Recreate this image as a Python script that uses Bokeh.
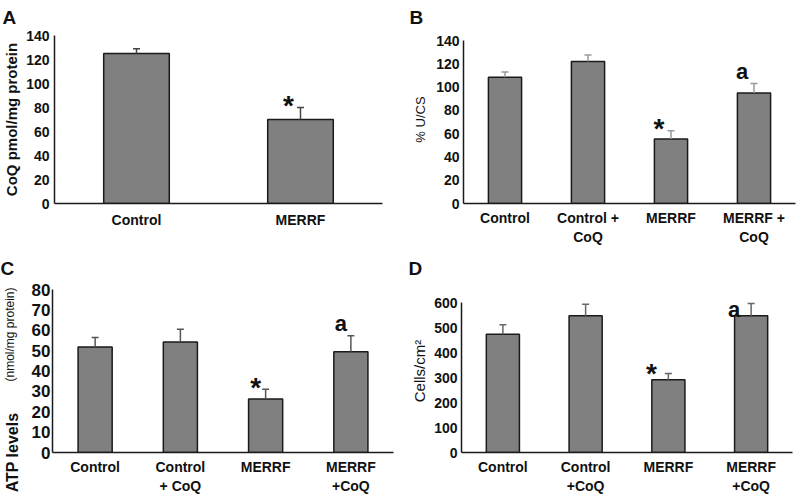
from bokeh.plotting import figure
from bokeh.models import (FactorRange, Range1d, FixedTicker, Whisker, TeeHead,
                          ColumnDataSource, Title)
from bokeh.layouts import column, row
from bokeh.embed import file_html
from bokeh.resources import INLINE
from bokeh.core.properties import value

FONT = "Liberation Sans"

# ---------------- data ----------------
a_cats = ["Control", "MERRF"]
a_vals = [125, 70]
a_err_top = [129, 80]
a_ticks = [0, 20, 40, 60, 80, 100, 120, 140]
a_mark_cats = ["MERRF"]
a_mark_text = ["*"]
a_mark_y = [87]

b_cats = ["Control", "Control +\nCoQ", "MERRF", "MERRF +\nCoQ"]
b_vals = [108.5, 122, 55.5, 95]
b_err_top = [113, 127.5, 62.5, 103]
b_ticks = [0, 20, 40, 60, 80, 100, 120, 140]
b_mark_cats = ["MERRF", "MERRF +\nCoQ"]
b_mark_text = ["*", "a"]
b_mark_y = [70, 112.5]

c_cats = ["Control", "Control\n+ CoQ", "MERRF", "MERRF\n+CoQ"]
c_vals = [51.8, 54.2, 26.2, 49.5]
c_err_top = [56.5, 60.5, 31, 57.3]
c_ticks = [0, 10, 20, 30, 40, 50, 60, 70, 80]
c_mark_cats = ["MERRF", "MERRF\n+CoQ"]
c_mark_text = ["*", "a"]
c_mark_y = [35, 62.6]

d_cats = ["Control", "Control\n+CoQ", "MERRF", "MERRF\n+CoQ"]
d_vals = [473, 548, 291, 548]
d_err_top = [511, 594, 316, 597]
d_ticks = [0, 100, 200, 300, 400, 500, 600]
d_mark_cats = ["MERRF", "MERRF\n+CoQ"]
d_mark_text = ["*", "a"]
d_mark_y = [339, 570]


def panel(cats, vals, errs, ticks, y_end, mcats, mtext, my, width, height,
          bl, br, bt, bb, tick_size, tick_standoff, xl_standoff, err_color,
          letter, letter_offset, letter_standoff, ylabel, ylabel_size,
          ylabel_style, ylabel_standoff, mark_dx):
    src = ColumnDataSource(dict(cat=cats, val=vals, err=errs))
    p = figure(x_range=FactorRange(*cats), y_range=Range1d(0, y_end),
               width=width, height=height, output_backend="svg",
               toolbar_location=None, min_border_left=bl, min_border_right=br,
               min_border_top=bt, min_border_bottom=bb)
    p.vbar(x="cat", top="val", width=0.4, source=src, fill_color="#808080",
           line_color="#1a1a1a", line_width=1.5)
    w = Whisker(base="cat", lower="val", upper="err", source=src,
                dimension="height", line_color=err_color, line_width=1.5,
                upper_head=TeeHead(size=7, line_color=err_color, line_width=1.5),
                lower_head=None, level="overlay")
    p.add_layout(w)
    # significance marks
    for t, size, yoff in (("*", "28px", 6), ("a", "22px", -1)):
        xs = [c for c, s in zip(mcats, mtext) if s == t]
        ys = [y for y, s in zip(my, mtext) if s == t]
        if xs:
            p.text(x=xs, y=ys, text=[t] * len(xs), text_align="center",
                   text_baseline="middle", x_offset=mark_dx, y_offset=yoff,
                   text_font=value(FONT), text_font_size=size,
                   text_font_style="bold", text_color="#111111")
    p.xgrid.visible = False
    p.ygrid.visible = False
    p.outline_line_color = None
    # panel letter
    p.title.text = letter
    p.title.align = "left"
    p.title.vertical_align = "top"
    p.title.offset = letter_offset
    p.title.text_font = FONT
    p.title.text_font_size = "19px"
    p.title.text_font_style = "bold"
    p.title.text_color = "#111111"
    p.title.standoff = letter_standoff
    # axes
    p.yaxis.ticker = FixedTicker(ticks=ticks)
    p.yaxis.bounds = (ticks[0], ticks[-1])
    for ax in (p.xaxis[0], p.yaxis[0]):
        ax.axis_line_color = "#1a1a1a"
        ax.axis_line_width = 1.5
        ax.major_tick_line_color = None
        ax.minor_tick_line_color = None
        ax.major_label_text_font = FONT
        ax.major_label_text_font_style = "bold"
        ax.major_label_text_color = "#111111"
        ax.major_tick_out = 0
        ax.major_tick_in = 0
    p.yaxis.major_label_text_font_size = tick_size
    p.yaxis.major_label_standoff = tick_standoff
    p.yaxis.axis_label = ylabel
    p.yaxis.axis_label_text_font = FONT
    p.yaxis.axis_label_text_font_size = ylabel_size
    p.yaxis.axis_label_text_font_style = ylabel_style
    p.yaxis.axis_label_text_color = "#111111"
    p.yaxis.axis_label_standoff = ylabel_standoff
    p.xaxis.major_label_text_font_size = "14px"
    p.xaxis.major_label_standoff = xl_standoff
    return p


pa = panel(a_cats, a_vals, a_err_top, a_ticks, 140, a_mark_cats, a_mark_text,
           a_mark_y, 400, 248, 50, 18, 35, 45, "14px", 5, 8, "#444444",
           "A", -52, 11, "CoQ pmol/mg protein", "15px", "bold", 3, -12)
pb = panel(b_cats, b_vals, b_err_top, b_ticks, 144.3, b_mark_cats, b_mark_text,
           b_mark_y, 398, 248, 63, 3, 35, 45, "14px", 4, 6, "#999999",
           "B", -54, 11, "% U/CS", "13px", "normal", 5, -12)
pc = panel(c_cats, c_vals, c_err_top, c_ticks, 80, c_mark_cats, c_mark_text,
           c_mark_y, 400, 248, 50, 7, 41, 42, "17px", 2, 6, "#555555",
           "C", -52, 17, "ATP levels", "16px", "bold", 8, -10)
pd = panel(d_cats, d_vals, d_err_top, d_ticks, 652.6, d_mark_cats, d_mark_text,
           d_mark_y, 398, 248, 61, 6, 41, 42, "14px", 4, 6, "#666666",
           "D", -53, 17, "Cells/cm²", "15px", "normal", 3, -17)

# panel C's y title: the large bold part sits at the bottom of the axis,
# the small unit part continues it higher up on the same line
pc.yaxis[0].axis_label_align = "start"
pc.add_layout(Title(text="(nmol/mg protein)", align="left", offset=71,
                    vertical_align="bottom", standoff=-33.6,
                    text_font=FONT, text_font_size="12px",
                    text_font_style="normal", text_color="#111111"), "left")

layout = column(row(pa, pb), row(pc, pd))

open("out.html", "w").write(file_html(layout, INLINE))
